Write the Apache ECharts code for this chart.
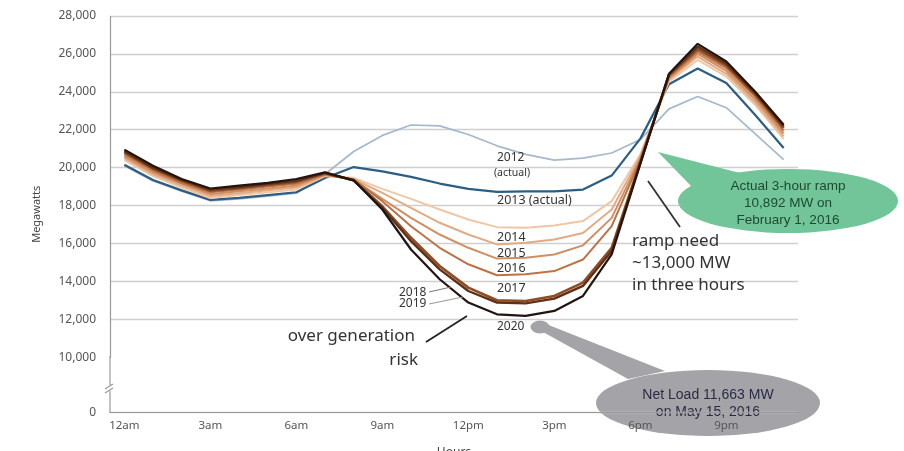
<!DOCTYPE html>
<html>
<head>
<meta charset="utf-8">
<script src="https://cdn.jsdelivr.net/npm/echarts@6/dist/echarts.min.js"></script>
<style>
  html, body { margin: 0; padding: 0; background: #fff; }
  #chart { width: 904px; height: 451px; }
</style>
</head>
<body>
<div id="chart"></div>
<script>
// hours of the day (x categories)
const hours = ['12am', '1am', '2am', '3am', '4am', '5am', '6am', '7am', '8am', '9am', '10am', '11am',
  '12pm', '1pm', '2pm', '3pm', '4pm', '5pm', '6pm', '7pm', '8pm', '9pm', '10pm', '11pm'];

// net load, MW
const y2012 = [20100, 19300, 18750, 18250, 18350, 18500, 18650, 19650, 20850, 21700, 22250, 22200,
  21750, 21150, 20700, 20400, 20500, 20770, 21480, 23100, 23750, 23160, 21790, 20420];
const y2013 = [20150, 19350, 18800, 18300, 18400, 18550, 18700, 19450, 20030, 19800, 19510, 19160,
  18880, 18720, 18750, 18750, 18840, 19580, 21530, 24400, 25230, 24460, 22790, 21040];
const y2014 = [20400, 19550, 18950, 18400, 18550, 18700, 18850, 19550, 19460, 18880, 18350, 17790,
  17260, 16860, 16830, 16950, 17180, 18230, 20700, 24550, 25680, 24800, 23320, 21500];
const y2015 = [20500, 19650, 19050, 18500, 18650, 18800, 18950, 19580, 19400, 18670, 17880, 17090,
  16470, 15950, 16040, 16210, 16550, 17790, 20600, 24650, 25860, 24950, 23450, 21650];
const y2016 = [20600, 19750, 19150, 18600, 18750, 18900, 19050, 19620, 19370, 18350, 17350, 16470,
  15770, 15200, 15250, 15420, 15900, 17350, 20500, 24720, 26000, 25100, 23600, 21800];
const y2017 = [20700, 19850, 19200, 18700, 18850, 19000, 19150, 19650, 19370, 18230, 16910, 15770,
  14900, 14320, 14370, 14540, 15150, 16910, 20400, 24800, 26120, 25250, 23750, 21950];
const y2018 = [20800, 19950, 19300, 18780, 18920, 19080, 19250, 19700, 19330, 17960, 16300, 14810,
  13670, 13000, 12960, 13230, 13930, 15770, 20300, 24870, 26250, 25380, 23870, 22080];
const y2019 = [20870, 20000, 19350, 18850, 18980, 19150, 19300, 19720, 19330, 17880, 16120, 14630,
  13490, 12880, 12840, 13090, 13760, 15600, 20250, 24920, 26390, 25480, 23950, 22180];
const y2020 = [20950, 20100, 19400, 18900, 19050, 19200, 19400, 19750, 19330, 17790, 15680, 14110,
  12880, 12260, 12180, 12440, 13230, 15420, 20200, 24950, 26530, 25600, 24020, 22260];

const years = ['2012', '2013', '2014', '2015', '2016', '2017', '2018', '2019', '2020'];
const values = [y2012, y2013, y2014, y2015, y2016, y2017, y2018, y2019, y2020];
const colors = ['#a5b8cc', '#2c5d82', '#f0c7a5', '#e2ab84', '#d08f63', '#bb7246', '#8e4d25', '#5e3016', '#221410'];
const widths = [1.7, 2.2, 2, 2, 2, 2, 2.6, 2.4, 2.2];

const font = '"Noto Sans", "DejaVu Sans", sans-serif';
const callFont = '"Liberation Sans", Arial, sans-serif';

let myChart = echarts.init(document.getElementById('chart'));

let series = years.map(function (y, i) {
  return {
    name: y,
    type: 'line',
    data: values[i],
    symbol: 'none',
    smooth: false,
    lineStyle: { color: colors[i], width: widths[i] },
    z: 2 + i
  };
});

// 文字注释
function txt(x, y, s, size, opt) {
  opt = opt || {};
  return {
    type: 'text', x: x, y: y, z: opt.z === undefined ? 20 : opt.z,
    style: {
      text: s, fill: opt.fill || '#333', font: 'normal ' + size + 'px ' + (opt.family || font),
      textAlign: opt.align || 'left', textVerticalAlign: 'middle', lineHeight: opt.lh || size + 4
    }
  };
}
function seg(x1, y1, x2, y2, color, w, z) {
  return { type: 'line', z: z === undefined ? 20 : z, shape: { x1: x1, y1: y1, x2: x2, y2: y2 }, style: { stroke: color || '#222', lineWidth: w || 1.5 } };
}
function oval(cx, cy, rx, ry, fill, z) {
  return { type: 'circle', x: cx, y: cy, scaleY: ry / rx, z: z === undefined ? 15 : z, shape: { cx: 0, cy: 0, r: rx }, style: { fill: fill } };
}

const grey = '#a4a4a8';

let graphics = [
  // y axis through the break, with the break mark
  seg(110, 356, 110, 413, '#999', 1.2, 25),
  { type: 'rect', z: 30, shape: { x: 104, y: 385, width: 12, height: 6 }, style: { fill: '#fff' } },
  seg(105, 389, 113, 384, '#999', 1.2, 31),
  seg(105, 393, 113, 388, '#999', 1.2, 31),

  txt(497, 158, '2012', 12),
  txt(512, 173, '(actual)', 10.5, { align: 'center' }),
  txt(497, 200, '2013 (actual)', 12.5),
  txt(497, 237, '2014', 12.5),
  txt(497, 253, '2015', 12.5),
  txt(497, 268, '2016', 12.5),
  txt(497, 288, '2017', 12.5),
  txt(497, 327, '2020', 12),
  txt(399, 293, '2018', 12),
  txt(399, 304, '2019', 12),
  seg(429, 292, 451, 287, '#777', 1),
  seg(429, 304, 463, 297, '#999', 1),

  txt(415, 336, 'over generation', 17, { align: 'right' }),
  txt(418, 360, 'risk', 17, { align: 'right' }),
  seg(426, 342, 467, 316, '#222', 1.8),

  txt(632, 241, 'ramp need', 17),
  txt(632, 263, '~13,000 MW', 17),
  txt(632, 285, 'in three hours', 17),
  seg(648, 181, 680, 227, '#333', 1.8),

  // green callout
  { type: 'polygon', z: 15, shape: { points: [[658, 152], [740, 173], [692, 187]] }, style: { fill: '#72c598' } },
  oval(788, 201, 110, 32, '#72c598'),
  txt(788, 203, 'Actual 3-hour ramp\n10,892 MW on\nFebruary 1, 2016', 13.5,
    { align: 'center', family: callFont, fill: '#1e4a33', lh: 17 }),

  // grey callout, kept under the axis like the original
  oval(540, 327, 9.5, 6.5, grey, -2),
  { type: 'polygon', z: -2, shape: { points: [[546, 324], [665, 371], [628, 379], [543, 332]] }, style: { fill: grey } },
  oval(708, 403, 112, 33, grey, -2),
  txt(708, 404, 'Net Load 11,663 MW\non May 15, 2016', 14,
    { align: 'center', family: callFont, fill: '#2a2a45', lh: 17, z: -1 })
];

let options = {
  animation: false,
  backgroundColor: '#fff',
  grid: { left: 110, right: 106, top: 16, bottom: 38.5, outerBoundsMode: 'none' },
  xAxis: {
    type: 'category',
    data: hours,
    boundaryGap: true,
    name: 'Hours',
    nameLocation: 'middle',
    nameGap: 34,
    nameTextStyle: { color: '#444', fontSize: 12, fontFamily: font },
    axisLine: { lineStyle: { color: '#999', width: 1.2 } },
    axisTick: { interval: 0, length: 4, lineStyle: { color: '#999' } },
    axisLabel: { interval: 2, color: '#555', fontSize: 11.5, fontFamily: font, margin: 7 },
    splitLine: { show: false }
  },
  yAxis: {
    type: 'value',
    min: 0,
    max: 28000,
    interval: 2000,
    breaks: [{ start: 0, end: 10000, gap: 2920 }],
    breakArea: { show: false },
    name: 'Megawatts',
    nameLocation: 'middle',
    nameGap: 68,
    nameRotate: 90,
    nameTextStyle: { color: '#444', fontSize: 11, fontFamily: font },
    axisLine: { show: true, lineStyle: { color: '#999', width: 1.2 } },
    axisTick: { show: false },
    axisLabel: {
      color: '#555', fontSize: 12, fontFamily: font, margin: 14,
      formatter: function (v) {
        if (v % 2000 !== 0) return '';
        return v.toLocaleString('en-US');
      }
    },
    splitLine: { lineStyle: { color: '#cfcfcf', width: 1.3 } }
  },
  series: series,
  graphic: graphics
};

myChart.setOption(options);
</script>
</body>
</html>
